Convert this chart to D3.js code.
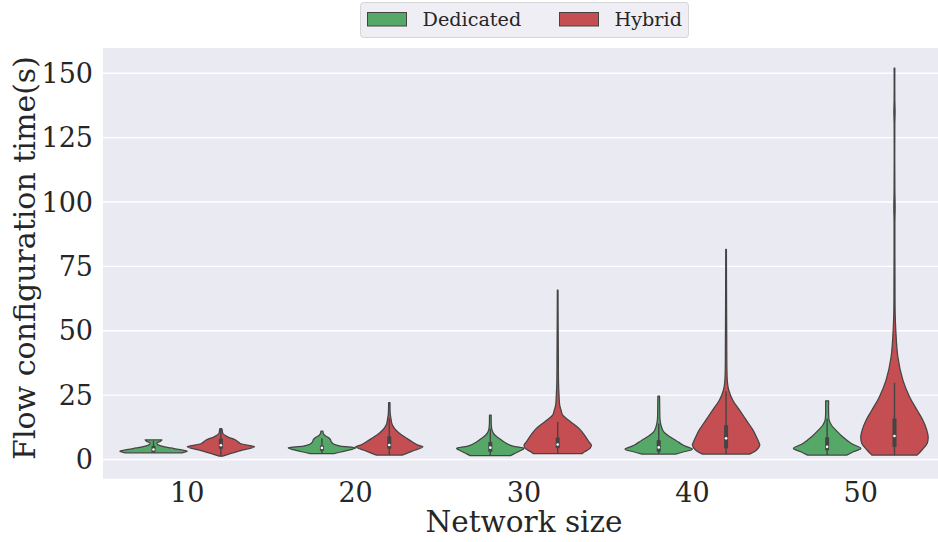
<!DOCTYPE html>
<html><head><meta charset="utf-8">
<script src="https://cdn.jsdelivr.net/npm/d3@7"></script>
<style>
html,body{margin:0;padding:0;background:#fff;}
svg text{font-family:"DejaVu Serif",serif;fill:#262626;}
</style></head>
<body><svg id="chart" width="938" height="542"></svg>
<script>
// ---------------- data ----------------
const categories = [10, 20, 30, 40, 50];
const seriesNames = ["Dedicated", "Hybrid"];
const seriesColors = ["#55a868", "#c44e52"];
const yTicks = [0, 25, 50, 75, 100, 125, 150];

// violin outlines: [value, relative half-width]
const dedicated10 = [[2.6,0.85],[3.2,1.0],[3.8,0.8],[4.5,0.5],[5.2,0.25],[5.8,0.12],[6.4,0.1],[7.0,0.2],[7.6,0.25]];
const dedicated20 = [[2.3,0.35],[3.0,0.6],[3.8,0.85],[4.5,1.0],[5.2,0.55],[5.9,0.36],[6.8,0.28],[7.8,0.25],[8.6,0.18],[9.4,0.08],[10.2,0.04],[11.0,0.03]];
const dedicated30 = [[1.5,0.6],[2.5,0.75],[3.5,0.9],[4.3,1.0],[5.0,0.75],[5.5,0.6],[6.8,0.41],[8.2,0.26],[9.7,0.12],[11.4,0.05],[13.3,0.03],[17.2,0.025]];
const dedicated40 = [[2.1,0.5],[3.0,0.75],[4.0,1.0],[5.0,0.82],[5.6,0.72],[7.5,0.5],[8.8,0.33],[10.7,0.15],[12.7,0.08],[15.3,0.04],[20.0,0.03],[24.6,0.025]];
const dedicated50 = [[1.7,0.58],[3.0,0.78],[4.3,1.0],[6.2,0.72],[8.8,0.46],[11.4,0.26],[13.3,0.13],[15.3,0.06],[17.9,0.045],[22.8,0.045]];
const hybrid10 = [[1.3,0.05],[2.4,0.3],[3.7,0.65],[4.9,1.0],[6.2,0.58],[7.5,0.45],[8.8,0.2],[10.1,0.06],[11.4,0.04],[12.0,0.03]];
const hybrid20 = [[1.7,0.38],[2.3,0.5],[3.6,0.75],[4.9,1.0],[5.6,0.85],[6.9,0.68],[8.2,0.52],[9.4,0.38],[10.4,0.28],[12.0,0.16],[13.8,0.08],[15.9,0.05],[17.5,0.03],[22.1,0.02]];
const hybrid30 = [[2.3,0.73],[3.0,0.8],[4.3,0.96],[5.6,1.0],[6.8,0.93],[9.4,0.8],[12.0,0.64],[14.6,0.39],[17.2,0.15],[19.2,0.1],[21.1,0.06],[25,0.04],[30,0.025],[40,0.02],[50,0.015],[65.8,0.01]];
const hybrid40 = [[2.1,0.7],[3.6,0.9],[5.6,1.0],[6.8,0.97],[8.8,0.9],[11.4,0.8],[15.3,0.6],[19.2,0.4],[23.0,0.2],[26.9,0.08],[30,0.04],[35,0.025],[45,0.02],[60,0.015],[81.6,0.01]];
const hybrid50 = [[1.7,0.67],[3.6,0.81],[6.2,0.97],[8.8,1.0],[11.4,0.96],[15.3,0.84],[19.2,0.67],[24.3,0.45],[30.8,0.25],[39.9,0.1],[50,0.04],[57,0.02],[70,0.015],[92,0.012],[98,0.02],[104,0.012],[130,0.01],[135,0.018],[140,0.01],[152,0.01]];

// inner boxes: [whiskerLow, q1, median, q3, whiskerHigh]
const dedicatedBox = [[2.6,2.9,3.9,5.3,7.2],[2.3,3.4,4.5,5.4,8.2],[1.5,3.0,4.6,6.8,12.0],[2.1,3.0,4.7,7.5,14.0],[1.7,3.6,4.9,8.6,15.8]];
const hybridBox = [[1.3,4.2,5.5,8.1,12.0],[1.7,4.2,5.6,9.0,16.0],[2.3,4.4,5.8,8.5,14.6],[2.1,4.3,8.2,13.3,26.5],[1.7,4.9,9.1,15.9,29.8]];

const dedicatedShapes = [dedicated10, dedicated20, dedicated30, dedicated40, dedicated50];
const hybridShapes = [hybrid10, hybrid20, hybrid30, hybrid40, hybrid50];

// ---------------- drawing ----------------
const svg = d3.select("#chart");
const plotLeft = 103, plotRight = 945, plotTop = 48, plotBottom = 478.8;

const x = d3.scaleBand().domain(categories).range([plotLeft, plotRight]).padding(0);
const y = d3.scaleLinear().domain([-7.5, 159.8]).range([plotBottom, plotTop]);
const hue = d3.scaleBand().domain(seriesNames).range([0, x.bandwidth()]).paddingInner(0).paddingOuter(0.25);

svg.append("rect").attr("x", plotLeft).attr("y", plotTop).attr("width", plotRight-plotLeft).attr("height", plotBottom-plotTop).attr("fill", "#eaeaf2");

svg.append("g").selectAll("line").data(yTicks).join("line")
  .attr("x1", plotLeft).attr("x2", plotRight)
  .attr("y1", d => y(d)).attr("y2", d => y(d))
  .attr("stroke", "#ffffff").attr("stroke-width", 1.3);

const outline = "#444444";
const halfW = hue.bandwidth()/2;

function drawViolins(shapes, boxes, sIdx) {
  const g = svg.append("g");
  shapes.forEach((shape, i) => {
    const cx = x(categories[i]) + hue(seriesNames[sIdx]) + hue.bandwidth()/2;
    const area = d3.area()
      .y(d => y(d[0]))
      .x0(d => cx - d[1]*halfW)
      .x1(d => cx + d[1]*halfW)
      .curve(d3.curveCatmullRom.alpha(0.5));
    g.append("path").attr("d", area(shape))
      .attr("fill", seriesColors[sIdx]).attr("stroke", outline).attr("stroke-width", 1.25)
      .attr("stroke-linejoin", "round");
    const b = boxes[i];
    g.append("line").attr("x1", cx).attr("x2", cx).attr("y1", y(b[0])).attr("y2", y(b[4]))
      .attr("stroke", outline).attr("stroke-width", 1.4);
    g.append("rect").attr("x", cx-2).attr("width", 4).attr("y", y(b[3])).attr("height", y(b[1]) - y(b[3]))
      .attr("fill", outline);
    g.append("circle").attr("cx", cx).attr("cy", y(b[2])).attr("r", 1.3).attr("fill", "#ffffff");
  });
}
drawViolins(dedicatedShapes, dedicatedBox, 0);
drawViolins(hybridShapes, hybridBox, 1);

// y axis labels
svg.append("g").selectAll("text").data(yTicks).join("text")
  .attr("x", 93).attr("y", d => y(d)).attr("dy", "0.36em")
  .attr("text-anchor", "end").attr("font-size", 27).text(d => d);

// x axis labels
svg.append("g").selectAll("text").data(categories).join("text")
  .attr("x", d => x(d) + x.bandwidth()/2).attr("y", 502)
  .attr("text-anchor", "middle").attr("font-size", 27).text(d => d);

svg.append("text").attr("x", 524).attr("y", 532).attr("text-anchor", "middle")
  .attr("font-size", 29.5).text("Network size");

svg.append("text").attr("transform", "translate(35,258) rotate(-90)")
  .attr("text-anchor", "middle").attr("font-size", 30).text("Flow configuration time(s)");

// legend
const lg = svg.append("g");
lg.append("rect").attr("x", 360.5).attr("y", 2.5).attr("width", 328).attr("height", 35).attr("rx", 3)
  .attr("fill", "#eeeef4").attr("stroke", "#d6d6d6").attr("stroke-width", 1);
const legX = [367.5, 559.5];
seriesNames.forEach((n, i) => {
  lg.append("rect").attr("x", legX[i]).attr("y", 12.5).attr("width", 39).attr("height", 13.5)
    .attr("fill", seriesColors[i]).attr("stroke", outline).attr("stroke-width", 1);
  lg.append("text").attr("x", legX[i] + 55).attr("y", 26).attr("font-size", 19.2).text(n);
});
</script></body></html>
